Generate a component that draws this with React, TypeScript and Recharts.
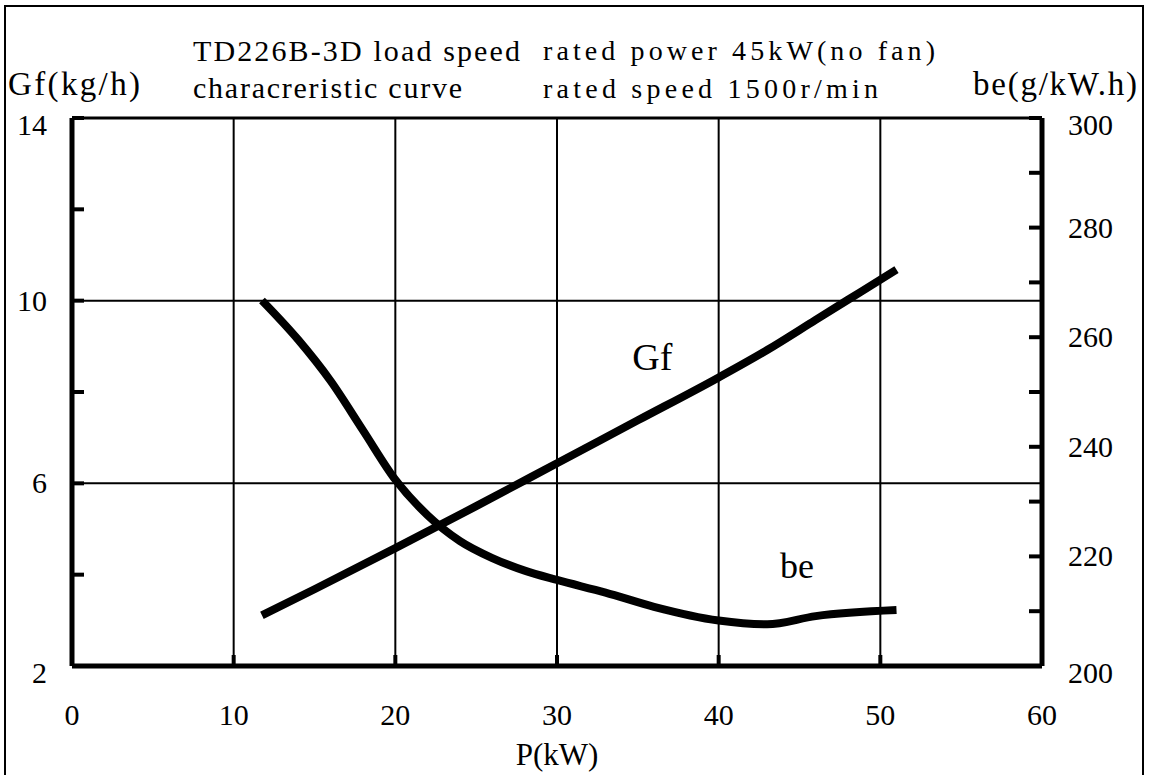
import { LineChart, Line, XAxis, YAxis, ReferenceLine, ReferenceDot, Label } from "recharts";

// P (kW) for the fuel consumption curve, and Gf (kg/h)
const gfPower = [11.75, 15, 20, 25, 30, 35, 40, 43, 46, 48, 51];
const gfRate = [3.11, 3.68, 4.58, 5.5, 6.44, 7.38, 8.32, 8.92, 9.58, 10.02, 10.68];

// P (kW) for the specific consumption curve, and be (g/kW.h)
const bePower = [11.75, 14, 16, 18, 20, 22, 24, 26, 28, 30, 33, 36, 40, 43, 46, 51];
const beRate = [266.7, 259.5, 252, 243, 234, 227.5, 222.8, 219.7, 217.4, 215.7, 213.4, 210.8, 208.3, 207.6, 209.1, 210.2];

const powerTicks = [0, 10, 20, 30, 40, 50, 60];
const gfTicks = [2, 4, 6, 8, 10, 12, 14];
const gfLabelled = [2, 6, 10, 14];
const beTicks = [200, 210, 220, 230, 240, 250, 260, 270, 280, 290, 300];
const gridPower = [10, 20, 30, 40, 50];
const gridGf = [6, 10];

const serif = "'Liberation Serif', 'DejaVu Serif', serif";

// tick label drawn as plain serif text; ends of the value axes sit a bit lower
function makeTick(anchor: "start" | "middle" | "end", show: (v: number) => boolean, edge: number[], baseDy: number) {
  return (props: any) => {
    const v = props.payload.value;
    if (!show(v)) return <g />;
    const dy = baseDy + (edge.includes(v) ? 7 : 0);
    return (
      <text x={props.x} y={props.y + dy} textAnchor={anchor} fontFamily={serif} fontSize={30} fill="#000">
        {v}
      </text>
    );
  };
}

export default function App() {
  const gfData = gfPower.map((p, i) => ({ p, gf: gfRate[i] }));
  const beData = bePower.map((p, i) => ({ p, be: beRate[i] }));

  return (
    <div
      style={{
        position: "absolute",
        left: 0,
        top: 0,
        width: 1150,
        height: 775,
        background: "#fff",
        overflow: "hidden",
        fontFamily: serif,
      }}
    >
      {/* outer frame */}
      <div
        style={{
          position: "absolute",
          left: 4,
          top: 5,
          width: 1140,
          height: 820,
          border: "2px solid #000",
          boxSizing: "border-box",
        }}
      />

      {/* header texts */}
      <svg
        width={1150}
        height={110}
        style={{ position: "absolute", left: 0, top: 0 }}
        fontFamily={serif}
        fill="#000"
      >
        <text x={193} y={61} fontSize={30} textLength={327} lengthAdjust="spacing">
          TD226B-3D load speed
        </text>
        <text x={193} y={98} fontSize={30} textLength={269} lengthAdjust="spacing">
          characreristic curve
        </text>
        <text x={543} y={60} fontSize={28} textLength={392} lengthAdjust="spacing">
          rated power 45kW(no fan)
        </text>
        <text x={543} y={98} fontSize={28} textLength={335} lengthAdjust="spacing">
          rated speed 1500r/min
        </text>
        <text x={8} y={95} fontSize={33} textLength={132} lengthAdjust="spacing">
          Gf(kg/h)
        </text>
        <text x={973} y={95} fontSize={33} textLength={164} lengthAdjust="spacing">
          be(g/kW.h)
        </text>
      </svg>

      <div style={{ position: "absolute", left: 0, top: 0 }}>
        <LineChart width={1150} height={775} margin={{ top: 118, right: 0, bottom: 0, left: 0 }}>
          <XAxis
            dataKey="p"
            type="number"
            domain={[0, 60]}
            ticks={powerTicks}
            allowDataOverflow
            height={109}
            axisLine={{ stroke: "#000", strokeWidth: 5 }}
            tickLine={{ stroke: "#000", strokeWidth: 4 }}
            tickSize={-11}
            tickMargin={50}
            tick={makeTick("middle", () => true, [], 20)}
          >
            <Label
              value="P(kW)"
              position="insideBottom"
              offset={10}
              style={{ fontFamily: serif, fontSize: 31, fill: "#000" }}
            />
          </XAxis>
          <YAxis
            yAxisId="left"
            type="number"
            domain={[2, 14]}
            ticks={gfTicks}
            allowDataOverflow
            width={72}
            axisLine={{ stroke: "#000", strokeWidth: 5 }}
            tickLine={{ stroke: "#000", strokeWidth: 4 }}
            tickSize={-12}
            tickMargin={37}
            tick={makeTick("end", (v) => gfLabelled.includes(v), [2, 14], 10)}
          />
          <YAxis
            yAxisId="right"
            orientation="right"
            type="number"
            domain={[200, 300]}
            ticks={beTicks}
            allowDataOverflow
            width={108}
            axisLine={{ stroke: "#000", strokeWidth: 5 }}
            tickLine={{ stroke: "#000", strokeWidth: 4 }}
            tickSize={-13}
            tickMargin={39}
            tick={makeTick("start", (v) => v % 20 === 0, [200, 300], 10)}
          />

          {gridPower.map((p) => (
            <ReferenceLine key={"v" + p} x={p} yAxisId="left" stroke="#000" strokeWidth={2} />
          ))}
          {gridGf.map((g) => (
            <ReferenceLine key={"h" + g} y={g} yAxisId="left" stroke="#000" strokeWidth={2} />
          ))}
          <ReferenceLine y={14} yAxisId="left" stroke="#000" strokeWidth={3} />

          <Line
            yAxisId="left"
            data={gfData}
            dataKey="gf"
            type="monotone"
            stroke="#000"
            strokeWidth={8}
            dot={false}
            activeDot={false}
            isAnimationActive={false}
          />
          <Line
            yAxisId="right"
            data={beData}
            dataKey="be"
            type="monotone"
            stroke="#000"
            strokeWidth={8}
            dot={false}
            activeDot={false}
            isAnimationActive={false}
          />

          <ReferenceDot
            x={35.9}
            y={8.77}
            yAxisId="left"
            r={0}
            stroke="none"
            fill="none"
            label={{ value: "Gf", position: "center", fontSize: 38, fill: "#000", fontFamily: serif }}
          />
          <ReferenceDot
            x={44.85}
            y={218.3}
            yAxisId="right"
            r={0}
            stroke="none"
            fill="none"
            label={{ value: "be", position: "center", fontSize: 36, fill: "#000", fontFamily: serif }}
          />
        </LineChart>
      </div>
    </div>
  );
}
